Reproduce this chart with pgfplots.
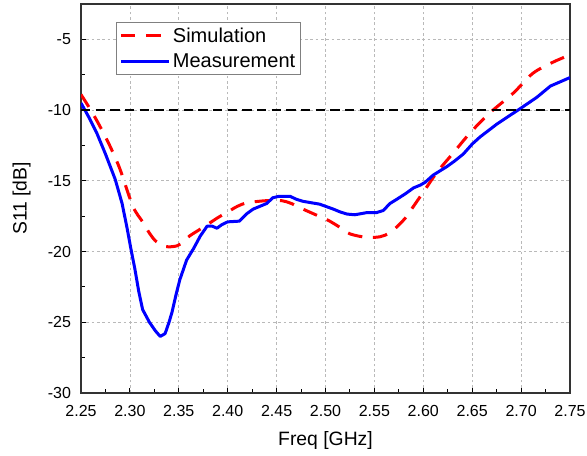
\documentclass[border=0pt]{standalone}
\usepackage{pgfplots}
\pgfplotsset{compat=1.18}
\usepackage{fontspec}
\setmainfont{Liberation Sans}
\begin{document}
\begin{tikzpicture}
\begin{axis}[
  scale only axis,
  width=366.75pt, height=291.75pt,
  xmin=2.25, xmax=2.75, ymin=-30, ymax=-2.5,
  xtick={2.25,2.30,...,2.76},
  ytick={-30,-25,-20,-15,-10,-5},
  minor x tick num=1, minor y tick num=1,
  x tick label style={/pgf/number format/fixed, /pgf/number format/fixed zerofill, /pgf/number format/precision=2, yshift=-6pt},
  /pgf/number format/assume math mode=true,
  tick label style={font=\fontsize{12}{14}\selectfont},
  y tick label style={xshift=-4pt},
  tick pos=left, tick align=inside,
  major tick length=4pt, minor tick length=3pt,
  tick style={black, line width=0.8pt},
  grid=major,
  major grid style={gray!55, line width=0.6pt, dash pattern=on 2pt off 2pt},
  axis line style={black!80, line width=1.1pt},
  xlabel={Freq [GHz]}, ylabel={S11 [dB]},
  label style={font=\fontsize{14.5}{16}\selectfont},
  xlabel style={yshift=-4pt},
  ylabel style={yshift=6pt},
  legend style={at={(0.072,0.954)}, anchor=north west, draw=gray, line width=0.6pt,
    font=\fontsize{15}{17}\selectfont, inner sep=2pt, row sep=3pt},
  legend cell align=left,
  legend image code/.code={\draw[#1] (0pt,0pt) -- (36pt,0pt);},
]
\addplot[red, line width=2.25pt, dash pattern=on 11pt off 8pt, smooth] coordinates {
(2.250,-8.9) (2.260,-10.0) (2.269,-11.1) (2.280,-12.6) (2.290,-14.2) (2.303,-16.8)
(2.313,-17.9) (2.320,-18.7) (2.327,-19.3) (2.337,-19.65) (2.348,-19.6) (2.355,-19.3)
(2.361,-18.9) (2.370,-18.5) (2.379,-18.1) (2.390,-17.6) (2.400,-17.2) (2.410,-16.8)
(2.420,-16.55) (2.440,-16.4) (2.455,-16.4) (2.465,-16.6) (2.477,-17.0) (2.490,-17.4)
(2.503,-17.8) (2.515,-18.3) (2.525,-18.75) (2.542,-19.0) (2.556,-18.95) (2.565,-18.7)
(2.573,-18.25) (2.582,-17.6) (2.590,-16.8) (2.600,-15.8) (2.614,-14.4) (2.631,-13.0)
(2.648,-11.6) (2.668,-10.2) (2.692,-8.8) (2.712,-7.4) (2.733,-6.6) (2.750,-6.1)
};
\addlegendentry{Simulation}
\addplot[blue, line width=2.25pt, line join=round] coordinates {
(2.250,-9.5) (2.258,-10.5) (2.266,-11.6) (2.275,-13.1) (2.285,-14.9) (2.292,-16.6)
(2.297,-18.3) (2.301,-19.8) (2.305,-21.2) (2.309,-22.8) (2.313,-24.1) (2.320,-25.0)
(2.326,-25.6) (2.331,-26.0) (2.336,-25.8) (2.340,-25.0) (2.343,-24.3) (2.347,-23.1)
(2.351,-22.0) (2.358,-20.6) (2.365,-19.8) (2.372,-18.9) (2.379,-18.2) (2.384,-18.2)
(2.389,-18.35) (2.394,-18.1) (2.400,-17.9) (2.412,-17.85) (2.420,-17.3) (2.426,-17.0)
(2.433,-16.8) (2.440,-16.6) (2.446,-16.2) (2.452,-16.1) (2.464,-16.1) (2.470,-16.3)
(2.477,-16.45) (2.494,-16.65) (2.508,-17.0) (2.515,-17.2) (2.522,-17.35) (2.530,-17.4)
(2.542,-17.25) (2.552,-17.25) (2.559,-17.1) (2.566,-16.6) (2.573,-16.3) (2.582,-15.9)
(2.590,-15.5) (2.597,-15.3) (2.602,-15.1) (2.610,-14.6) (2.624,-14.0) (2.632,-13.6)
(2.641,-13.1) (2.650,-12.4) (2.658,-11.9) (2.675,-11.0) (2.688,-10.4) (2.699,-9.9)
(2.716,-9.1) (2.730,-8.3) (2.740,-8.0) (2.750,-7.7)
};
\addlegendentry{Measurement}
\addplot[black, line width=1.5pt, dash pattern=on 7pt off 4pt, forget plot] coordinates {(2.25,-10) (2.75,-10)};
\end{axis}
\pgfresetboundingbox
\path[use as bounding box] ([xshift=-60.75pt,yshift=-46.5pt]current axis.south west) rectangle ([xshift=12.75pt,yshift=3pt]current axis.north east);
\end{tikzpicture}
\end{document}
